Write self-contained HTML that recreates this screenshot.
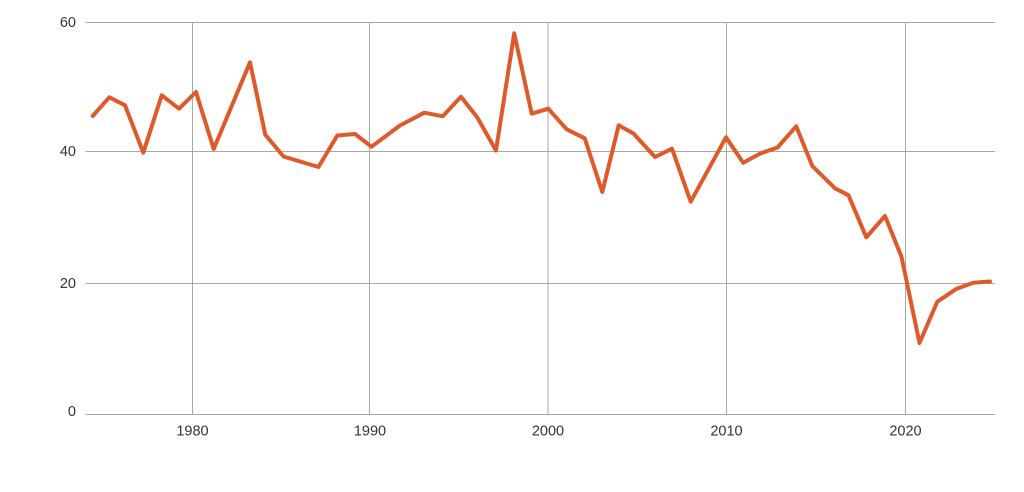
<!DOCTYPE html>
<html>
<head>
<meta charset="utf-8">
<style>
  html,body{margin:0;padding:0;background:#fff;}
  svg{display:block;}
  text{font-family:"Liberation Sans","DejaVu Sans",sans-serif;font-size:14.5px;fill:#333;}
</style>
</head>
<body>
<svg width="1024" height="492" viewBox="0 0 1024 492" xmlns="http://www.w3.org/2000/svg">
  <rect width="1024" height="492" fill="#fff"/>
  <g stroke="#a8a8a8" stroke-width="1" fill="none">
    <line x1="85.5" y1="22.5" x2="995" y2="22.5"/>
    <line x1="85.5" y1="151.5" x2="995" y2="151.5"/>
    <line x1="85.5" y1="283.5" x2="995" y2="283.5"/>
    <line x1="85.5" y1="414.5" x2="995" y2="414.5"/>
    <line x1="192.5" y1="22" x2="192.5" y2="414"/>
    <line x1="369.5" y1="22" x2="369.5" y2="414"/>
    <line x1="548" y1="22" x2="548" y2="414"/>
    <line x1="726.5" y1="22" x2="726.5" y2="414"/>
    <line x1="905.5" y1="22" x2="905.5" y2="414"/>
  </g>
  <g text-anchor="end">
    <text x="76" y="27">60</text>
    <text x="76" y="156">40</text>
    <text x="76" y="288">20</text>
    <text x="76" y="416">0</text>
  </g>
  <g text-anchor="middle">
    <text x="192.5" y="435.5">1980</text>
    <text x="370" y="435.5">1990</text>
    <text x="548" y="435.5">2000</text>
    <text x="726.5" y="435.5">2010</text>
    <text x="905.5" y="435.5">2020</text>
  </g>
  <polyline fill="none" stroke="#e0592a" stroke-width="4" stroke-linejoin="round" stroke-linecap="round"
    points="92.7,116 109.3,97.3 125,105.3 143.3,152.7 161.7,95.3 179,108.7 196,92 213.7,149 250,62.3 265.3,134.7 283.5,156.5 318.5,167 337.3,135.5 355,134 371.5,146.7 400,125.5 424.3,112.7 442.7,116.3 461,96.7 477,117 496,150.5 514.2,33.3 531.7,113.7 548.3,108.7 566.7,129.3 584.7,138.3 602.3,192 618.7,125.3 633.5,133.5 655,157 672,148.7 690.7,201.7 726,137.3 743.2,162.7 760.7,153.3 777.5,147.5 796.2,126.3 812.3,166 835,188.3 848.5,195.3 866.3,237.3 885,216 901.5,256.7 919.5,343 937.3,301.7 956.7,288.7 973.3,282.7 990,281.5"/>
</svg>
</body>
</html>
